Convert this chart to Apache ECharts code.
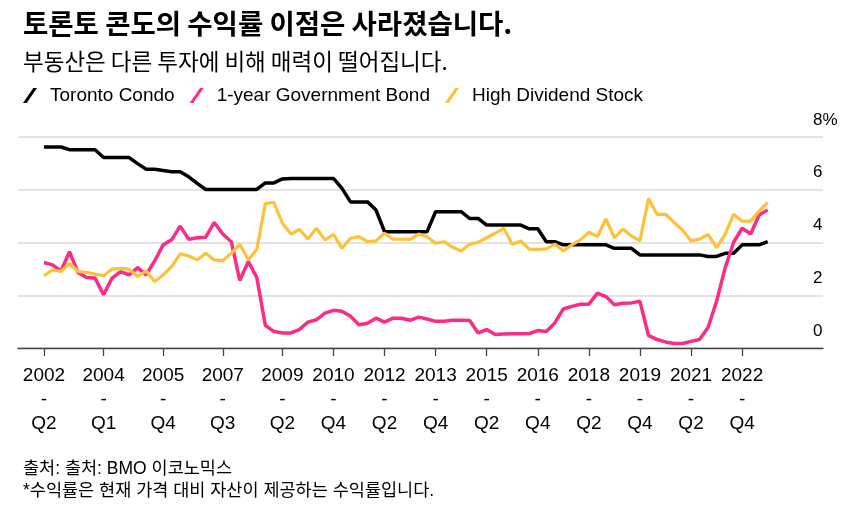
<!DOCTYPE html>
<html>
<head>
<meta charset="utf-8">
<script src="https://cdn.jsdelivr.net/npm/echarts@6/dist/echarts.min.js"></script>
<style>
html,body{margin:0;padding:0;background:#fff;}
#chart{width:854px;height:506px;}
</style>
</head>
<body>
<div id="chart"></div>
<script>
var quarters = [
'2002 Q2','2002 Q3','2002 Q4','2003 Q1','2003 Q2','2003 Q3','2003 Q4','2004 Q1','2004 Q2','2004 Q3','2004 Q4',
'2005 Q1','2005 Q2','2005 Q3','2005 Q4','2006 Q1','2006 Q2','2006 Q3','2006 Q4','2007 Q1','2007 Q2','2007 Q3','2007 Q4',
'2008 Q1','2008 Q2','2008 Q3','2008 Q4','2009 Q1','2009 Q2','2009 Q3','2009 Q4','2010 Q1','2010 Q2','2010 Q3','2010 Q4',
'2011 Q1','2011 Q2','2011 Q3','2011 Q4','2012 Q1','2012 Q2','2012 Q3','2012 Q4','2013 Q1','2013 Q2','2013 Q3','2013 Q4',
'2014 Q1','2014 Q2','2014 Q3','2014 Q4','2015 Q1','2015 Q2','2015 Q3','2015 Q4','2016 Q1','2016 Q2','2016 Q3','2016 Q4',
'2017 Q1','2017 Q2','2017 Q3','2017 Q4','2018 Q1','2018 Q2','2018 Q3','2018 Q4','2019 Q1','2019 Q2','2019 Q3','2019 Q4',
'2020 Q1','2020 Q2','2020 Q3','2020 Q4','2021 Q1','2021 Q2','2021 Q3','2021 Q4','2022 Q1','2022 Q2','2022 Q3','2022 Q4',
'2023 Q1','2023 Q2','2023 Q3'
];
var tickQuarters = ['2002 Q2','2004 Q1','2005 Q4','2007 Q3','2009 Q2','2010 Q4','2012 Q2','2013 Q4','2015 Q2','2016 Q4','2018 Q2','2019 Q4','2021 Q2','2022 Q4'];
var yTicks = [0, 2, 4, 6, 8];

var torontoCondo = [7.62,7.62,7.62,7.52,7.52,7.52,7.52,7.22,7.22,7.22,7.22,6.99,6.78,6.78,6.73,6.68,6.68,6.49,6.24,6.01,
6.01,6.01,6.01,6.01,6.01,6.01,6.26,6.26,6.41,6.43,6.43,6.43,6.43,6.43,6.43,6.05,5.54,5.54,5.54,5.23,
4.41,4.41,4.41,4.41,4.41,4.41,5.17,5.17,5.17,5.17,4.91,4.91,4.66,4.66,4.66,4.66,4.66,4.52,4.52,4.03,
4.03,3.91,3.91,3.91,3.91,3.91,3.91,3.78,3.78,3.78,3.53,3.53,3.53,3.53,3.53,3.53,3.53,3.53,3.47,3.47,
3.59,3.59,3.91,3.91,3.91,4.03];
var govBond = [3.24,3.15,2.92,3.65,2.86,2.67,2.65,2.02,2.65,2.90,2.77,3.05,2.77,3.30,3.91,4.10,4.62,4.12,4.18,4.20,
4.76,4.32,4.03,2.56,3.28,2.67,0.86,0.63,0.57,0.57,0.70,0.98,1.07,1.32,1.43,1.39,1.20,0.88,0.94,1.13,
0.98,1.13,1.13,1.05,1.17,1.10,1.01,1.01,1.05,1.05,1.04,0.57,0.70,0.51,0.53,0.54,0.54,0.55,0.66,0.63,
0.95,1.48,1.58,1.66,1.66,2.08,1.95,1.64,1.70,1.71,1.77,0.48,0.32,0.23,0.17,0.17,0.25,0.32,0.78,1.77,
3.03,4.01,4.54,4.32,5.04,5.23];
var dividendStock = [2.74,2.96,2.90,3.21,2.90,2.87,2.80,2.74,2.99,3.02,2.99,2.71,2.92,2.52,2.77,3.09,3.57,3.49,3.34,3.59,
3.34,3.31,3.59,3.93,3.34,3.74,5.48,5.52,4.73,4.32,4.50,4.13,4.54,4.10,4.31,3.78,4.16,4.22,4.03,4.06,
4.35,4.13,4.13,4.12,4.32,4.22,3.97,4.03,3.82,3.68,3.93,4.01,4.18,4.35,4.54,3.93,4.06,3.75,3.74,3.76,
3.94,3.68,3.91,4.10,4.39,4.22,4.89,4.18,4.51,4.25,4.06,5.67,5.07,5.07,4.76,4.47,4.06,4.13,4.31,3.81,
4.31,5.07,4.81,4.81,5.19,5.52];

var seriesNames = ['Toronto Condo', '1-year Government Bond', 'High Dividend Stock'];
var seriesColors = ['#000000', '#fb2c86', '#fec13a'];

function pairs(arr) { return arr.map(function (v, i) { return [i, v]; }); }
var tickIdx = tickQuarters.map(function (q) { return quarters.indexOf(q); });

var FONT = "'Liberation Sans', 'Noto Sans CJK KR', Arial, sans-serif";
var KFONT = "'Noto Sans CJK KR', 'Liberation Sans', sans-serif";
var slash = 'path://M0,15 L10.3,0 L14,0 L3.7,15 Z';

var chart = echarts.init(document.getElementById('chart'), null, {renderer: 'canvas'});
chart.setOption({
  animation: false,
  backgroundColor: '#ffffff',
  title: [
    {text: '토론토 콘도의 수익률 이점은 사라졌습니다.', left: 18, top: 3,
     textStyle: {fontFamily: KFONT, fontSize: 27.5, fontWeight: 'bold', color: '#000', lineHeight: 32}},
    {text: '부동산은 다른 투자에 비해 매력이 떨어집니다.', left: 18, top: 42,
     textStyle: {fontFamily: KFONT, fontSize: 22.5, fontWeight: 'normal', color: '#000', lineHeight: 28}},
    {text: '출처: 출처: BMO 이코노믹스\n*수익률은 현재 가격 대비 자산이 제공하는 수익률입니다.', left: 18, top: 453,
     textStyle: {fontFamily: FONT, fontSize: 17.5, fontWeight: 'normal', color: '#000', lineHeight: 22}}
  ],
  legend: {
    left: 18, top: 81, itemWidth: 14, itemHeight: 15, itemGap: 15,
    icon: slash,
    data: seriesNames,
    textStyle: {fontFamily: FONT, fontSize: 19, color: '#000', padding: [0, 0, 0, 8]}
  },
  grid: {left: 18, right: 31, top: 137, bottom: 158},
  xAxis: {
    type: 'value', min: -3.05, max: 91.5,
    splitLine: {show: false},
    axisLine: {show: true, onZero: false, lineStyle: {color: '#444', width: 1.3}},
    axisTick: {show: true, length: 8, customValues: tickIdx, lineStyle: {color: '#444', width: 1.3}},
    axisLabel: {
      customValues: tickIdx, margin: 16,
      fontFamily: FONT, fontSize: 19, color: '#000', lineHeight: 24, align: 'center',
      formatter: function (v) {
        var q = quarters[Math.round(v)] || '';
        var p = q.split(' ');
        return p[0] + '\n-\n' + p[1];
      }
    }
  },
  yAxis: {
    type: 'value', position: 'right', min: 0, max: 8, interval: 2,
    axisLine: {show: false}, axisTick: {show: false},
    splitLine: {show: true, lineStyle: {color: '#dadada', width: 1.5}},
    axisLabel: {
      customValues: yTicks,
      margin: -10, align: 'left', verticalAlign: 'bottom', lineHeight: 20, padding: [0, 0, 7, 0],
      fontFamily: FONT, fontSize: 17, color: '#000',
      formatter: function (v) { return v === 8 ? v + '%' : String(v); }
    }
  },
  series: [
    {name: seriesNames[0], type: 'line', data: pairs(torontoCondo), showSymbol: false, symbol: 'none',
     color: seriesColors[0], lineStyle: {width: 3.5, color: seriesColors[0]}},
    {name: seriesNames[1], type: 'line', data: pairs(govBond), showSymbol: false, symbol: 'none',
     color: seriesColors[1], lineStyle: {width: 3.5, color: seriesColors[1]}},
    {name: seriesNames[2], type: 'line', data: pairs(dividendStock), showSymbol: false, symbol: 'none',
     color: seriesColors[2], lineStyle: {width: 3.2, color: seriesColors[2]}}
  ]
});
</script>
</body>
</html>
